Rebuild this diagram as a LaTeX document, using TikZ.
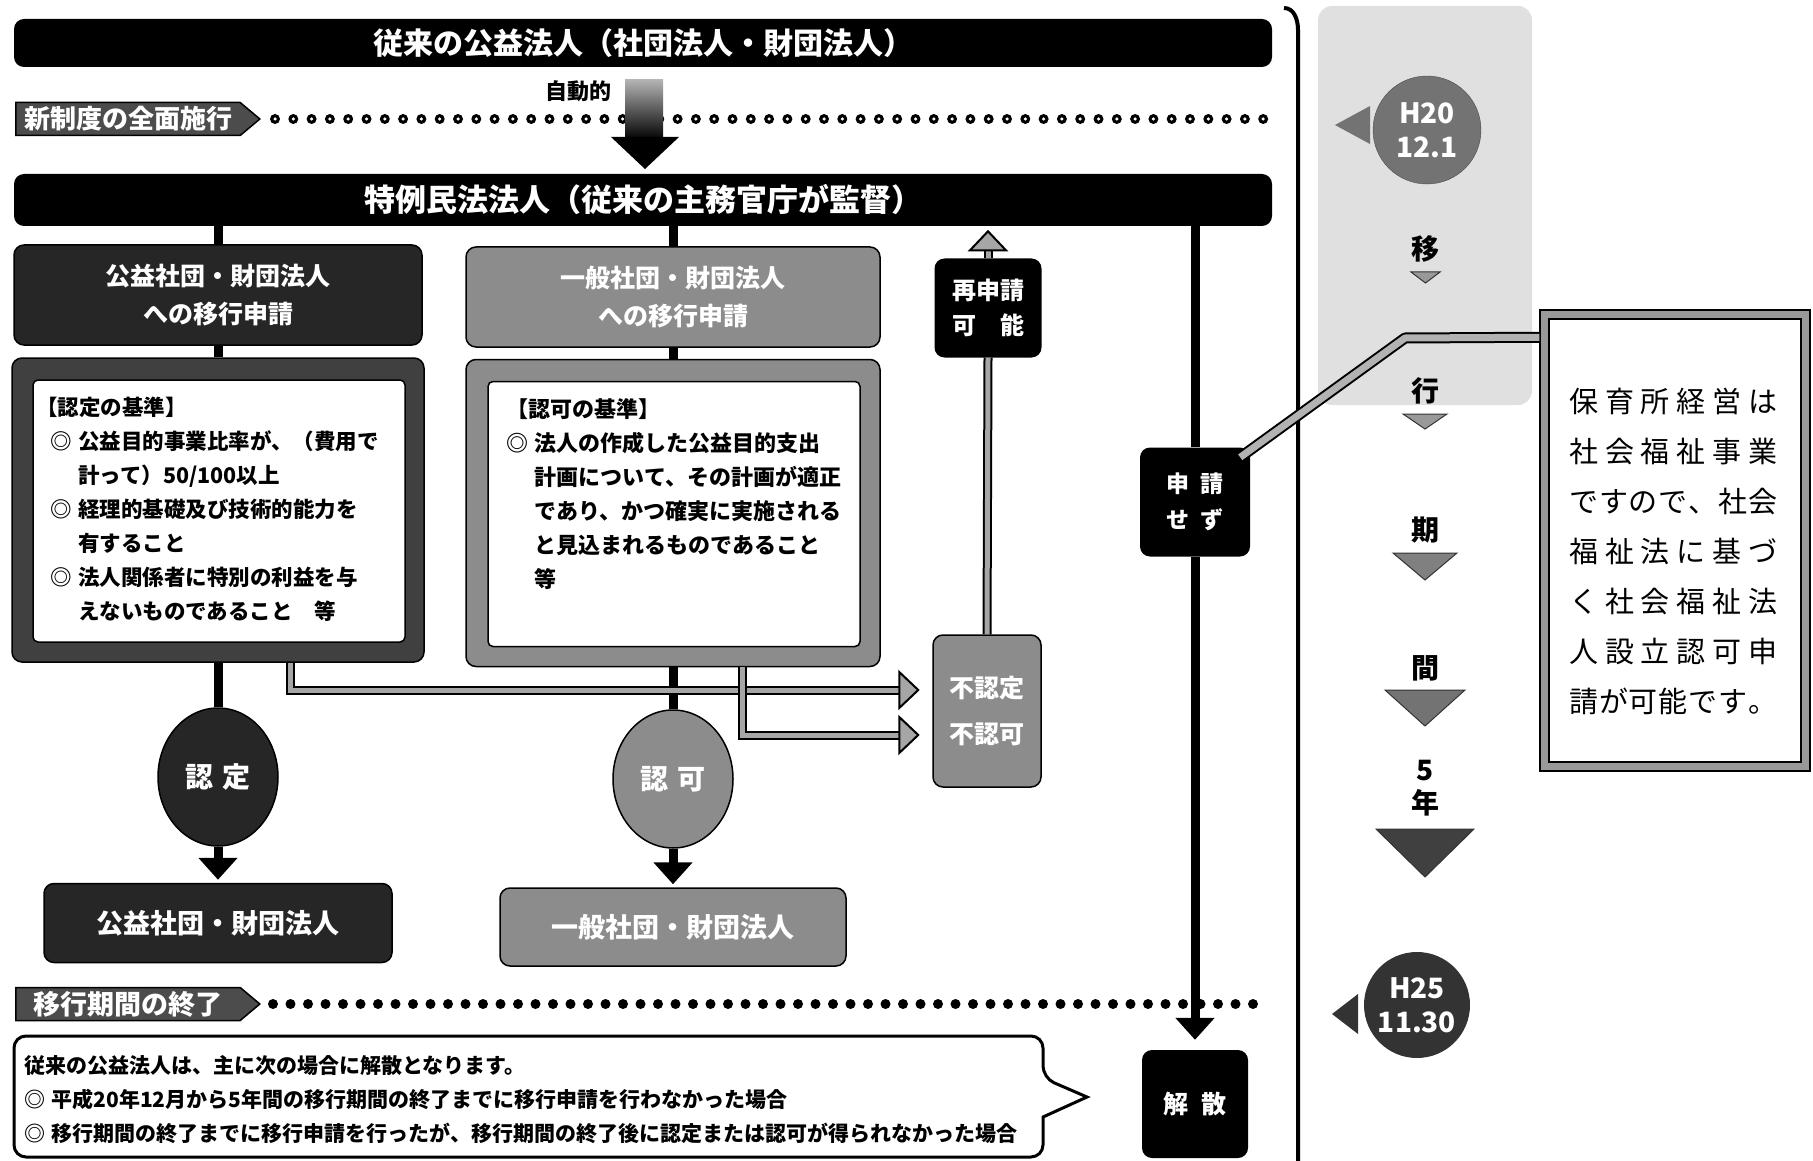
\documentclass[tikz,border=0pt]{standalone}
\usepackage{fontspec}
\newfontfamily\jp{Noto Sans CJK JP}
\usetikzlibrary{arrows.meta,shapes.geometric,shapes.symbols,calc}
\newcommand{\myfs}[2]{\fontsize{#1}{#2}\selectfont}
\begin{document}
\begin{tikzpicture}[x=1pt,y=-1pt,
  every node/.style={inner sep=0pt, font=\jp\bfseries},
  blackbar/.style={fill=black, rounded corners=10pt, text=white, minimum width=1258},
  darkbox/.style={fill=black!85, draw=black, line width=1.5pt, rounded corners=10pt, text=white, align=center},
  graybox/.style={fill=black!45, draw=black, line width=1.5pt, rounded corners=10pt, text=white, align=center},
  blkbox/.style={fill=black, rounded corners=10pt, text=white, align=center},
  conn/.style={line width=9pt, draw=black},
  tipd/.style={-{Triangle[width=38pt,length=22pt]}},
  gline/.style={double=black!35, double distance=5pt, line width=2pt, line join=miter},
  ghead/.style={fill=black!35, draw=black, line width=2pt, line join=miter},
  crittext/.style={anchor=north west, align=left, text=black, font=\jp\bfseries\myfs{21.5}{34}},
  tagbox/.style={signal, signal to=east, signal pointer angle=80, fill=black!70, draw=black, line width=1.5pt, text=white, font=\jp\bfseries\myfs{26}{30}, minimum height=33, minimum width=244},
  tl/.style={font=\jp\bfseries\myfs{28}{33}, align=center},
  tri/.style={fill=black!40, draw=black!80, line width=1pt}
]
\useasboundingbox (0,0) rectangle (1813,1161);

% ---------- right timeline background ----------
\fill[black!12, rounded corners=14pt] (1318,6) rectangle (1532,405);

% ---------- tags and dotted lines ----------
\node[tagbox] (tag1) at (128,119) {新制度の全面施行};
\node[tagbox, font=\jp\bfseries\myfs{27}{30}] (tag2) at (128,1004) {移行期間の終了};
\draw[line width=10pt, line cap=round, dash pattern=on 0pt off 18.3pt] ([xshift=14pt]tag1.east) -- (1268,119);
\draw[line width=3.5pt, white, line cap=round, dash pattern=on 0pt off 18.3pt] ([xshift=14pt]tag1.east) -- (1268,119);
\draw[line width=10pt, line cap=round, dash pattern=on 0pt off 17.5pt] ([xshift=12pt]tag2.east) -- (1255,1004);

% ---------- main bars ----------
\node[blackbar, minimum height=48, font=\jp\bfseries\myfs{30}{34}] (top) at (643,43) {従来の公益法人（社団法人・財団法人）};
\node[blackbar, minimum height=52, font=\jp\bfseries\myfs{31}{34}] (bar2) at (643,200) {特例民法法人（従来の主務官庁が監督）};

% automatic arrow
\node[font=\jp\bfseries\myfs{22}{26}, anchor=east] (auto) at (612,91) {自動的};
\shade[top color=black!30, bottom color=black] (625,80) rectangle (663,140);
\fill (611,137) -- (679,137) -- (645,169) -- cycle;

% ---------- column 1 ----------
\node[darkbox, minimum width=408, minimum height=100, font=\jp\bfseries\myfs{25}{38}] (hdr1) at (218,295) {公益社団・財団法人\\への移行申請};
\node[fill=black!75, draw=black, line width=1.5pt, rounded corners=10pt, minimum width=412, minimum height=304] (crit1) at (218,510) {};
\node[fill=white, draw=black, line width=1.5pt, rounded corners=5pt, minimum width=372, minimum height=262] (crit1in) at (219,511) {};
\node[crittext] (crit1txt) at (36,397) {【認定の基準】\\
\hspace*{0.65em}◎\hspace{0.3em}公益目的事業比率が、（費用で\\
\hspace*{1.95em}計って）50/100以上\\
\hspace*{0.65em}◎\hspace{0.3em}経理的基礎及び技術的能力を\\
\hspace*{1.95em}有すること\\
\hspace*{0.65em}◎\hspace{0.3em}法人関係者に特別の利益を与\\
\hspace*{1.95em}えないものであること　等};
\node[ellipse, fill=black!85, draw=black, line width=1.5pt, minimum width=120, minimum height=138, text=white, font=\jp\bfseries\myfs{28}{32}] (ell1) at (218,777) {認\hspace{0.3em}定};
\node[darkbox, minimum width=348, minimum height=79, font=\jp\bfseries\myfs{27}{32}] (res1) at (218,923) {公益社団・財団法人};

% ---------- column 2 ----------
\node[graybox, minimum width=414, minimum height=100, font=\jp\bfseries\myfs{25}{38}] (hdr2) at (673,297) {一般社団・財団法人\\への移行申請};
\node[fill=black!45, draw=black, line width=1.5pt, rounded corners=10pt, minimum width=414, minimum height=307] (crit2) at (673,513) {};
\node[fill=white, draw=black, line width=1.5pt, rounded corners=5pt, minimum width=372, minimum height=265] (crit2in) at (674,514) {};
\node[crittext, font=\jp\bfseries\myfs{22}{34}] (crit2txt) at (506,398) {【認可の基準】\\
◎\hspace{0.3em}法人の作成した公益目的支出\\
\hspace*{1.3em}計画について、その計画が適正\\
\hspace*{1.3em}であり、かつ確実に実施される\\
\hspace*{1.3em}と見込まれるものであること\\
\hspace*{1.3em}等};
\node[ellipse, fill=black!45, draw=black, line width=1.5pt, minimum width=120, minimum height=138, text=white, font=\jp\bfseries\myfs{28}{32}] (ell2) at (673,779) {認\hspace{0.3em}可};
\node[graybox, minimum width=346, minimum height=78, font=\jp\bfseries\myfs{27}{32}] (res2) at (673,927) {一般社団・財団法人};

% ---------- refusal / reapplication ----------
\node[graybox, minimum width=108, minimum height=152, font=\jp\bfseries\myfs{25}{46}] (nokt) at (987,711) {不認定\\不認可};
\node[blkbox, minimum width=107, minimum height=99, font=\jp\bfseries\myfs{24}{35}] (resub) at (988,308) {再申請\\\makebox[3em][s]{可\hfill 能}};

% ---------- column 3 ----------
\node[blkbox, minimum width=110, minimum height=109, font=\jp\bfseries\myfs{23}{36}] (nosub) at (1195,502) {申\hspace{0.45em}請\\せ\hspace{0.45em}ず};
\node[blkbox, minimum width=106, minimum height=108, font=\jp\bfseries\myfs{25}{30}] (kaisan) at (1195,1104) {解\hspace{0.5em}散};

% ---------- black connectors ----------
\draw[conn] (hdr1.north |- bar2.south) -- (hdr1.north);
\draw[conn] (hdr1.south) -- (crit1.north);
\draw[conn] (crit1.south) -- (ell1.north);
\draw[conn, tipd, shorten >=3pt] (ell1.south) -- (res1.north);
\draw[conn] (hdr2.north |- bar2.south) -- (hdr2.north);
\draw[conn] (hdr2.south) -- (crit2.north);
\draw[conn] (crit2.south) -- (ell2.north);
\draw[conn, tipd, shorten >=3pt] (ell2.south) -- (res2.north);
\draw[conn] (nosub.north |- bar2.south) -- (nosub.north);
\draw[conn, tipd, shorten >=10pt] (nosub.south) -- (kaisan.north);

% ---------- gray connectors ----------
\coordinate (ha) at ($(nokt.west)+(-33,-21)$);
\coordinate (hb) at ($(nokt.west)+(-33,24)$);
\draw[gline] ([xshift=72pt]crit1.south) |- (ha);
\draw[ghead] ($(ha)+(0,-18)$) -- ($(ha)+(19,0)$) -- ($(ha)+(0,18)$) -- cycle;
\draw[gline] ([xshift=69pt]crit2.south) |- (hb);
\draw[ghead] ($(hb)+(0,-18)$) -- ($(hb)+(19,0)$) -- ($(hb)+(0,18)$) -- cycle;
\draw[gline] (nokt.north) -- (resub.south);
\coordinate (hu) at ($(resub.north)+(0,-8)$);
\draw[gline] (resub.north) -- (hu);
\draw[ghead] ($(hu)+(-18,0)$) -- ($(hu)+(18,0)$) -- ($(hu)+(0,-19)$) -- cycle;

% ---------- dissolution callout ----------
\draw[line width=3pt, fill=white, rounded corners=12pt] (14,1036) -- (1043,1036) -- (1043,1078) [sharp corners] -- (1087,1097) -- (1043,1117) [rounded corners=12pt] -- (1043,1157) -- (14,1157) -- cycle;
\node[anchor=north west, align=left, font=\jp\bfseries\myfs{21}{34}] (calltxt) at (24,1055) {従来の公益法人は、主に次の場合に解散となります。\\
◎\hspace{0.3em}平成20年12月から5年間の移行期間の終了までに移行申請を行わなかった場合\\
◎\hspace{0.3em}移行期間の終了までに移行申請を行ったが、移行期間の終了後に認定または認可が得られなかった場合};

% ---------- separator ----------
\draw[line width=4pt] (1284,8) to[out=0,in=90] (1298,30) -- (1298,1161);

% ---------- timeline ----------
\fill[black!55] (1335,125) -- (1370,106) -- (1370,144) -- cycle;
\node[circle, fill=black!55, draw=black!70, minimum size=108, text=white, align=center, font=\jp\bfseries\myfs{28}{34}] (h20) at (1427,130) {H20\\12.1};
\node[tl] (t1) at (1425,249) {移};
\draw[tri] (1411,272) -- (1440,272) -- (1425.5,283) -- cycle;
\node[tl] (t2) at (1425,391) {行};
\draw[tri] (1403,414) -- (1447,414) -- (1425,429) -- cycle;
\node[tl] (t3) at (1425,530) {期};
\draw[tri, fill=black!50] (1393,553) -- (1457,553) -- (1425,580) -- cycle;
\node[tl] (t4) at (1425,668) {間};
\draw[tri, fill=black!55] (1385,690) -- (1465,690) -- (1425,726) -- cycle;
\node[tl] (t5) at (1425,788) {5\\年};
\draw[tri, fill=black!75] (1376,829) -- (1474,829) -- (1425,877) -- cycle;
\fill[black!80] (1332,1014) -- (1358,994) -- (1358,1034) -- cycle;
\node[circle, fill=black!80, minimum size=106, text=white, align=center, font=\jp\bfseries\myfs{28}{34}] (h25) at (1417,1005) {H25\\11.30};

% ---------- note box ----------
\node[fill=black!40, draw=black, line width=1.5pt, minimum width=270, minimum height=461] (note) at (1675,540.5) {};
\node[fill=white, draw=black, line width=1.5pt, minimum width=252, minimum height=443] (notein) at (note.center) {};
\node[anchor=north west, align=left, text=black, font=\jp\mdseries\myfs{29}{50}] (notetxt) at (1569,388) {%
\hbox to 208pt{保\hfill 育\hfill 所\hfill 経\hfill 営\hfill は}\\
\hbox to 208pt{社\hfill 会\hfill 福\hfill 祉\hfill 事\hfill 業}\\
\hbox to 208pt{で\hfill す\hfill の\hfill で\hfill 、\hfill 社\hfill 会}\\
\hbox to 208pt{福\hfill 祉\hfill 法\hfill に\hfill 基\hfill づ}\\
\hbox to 208pt{く\hfill 社\hfill 会\hfill 福\hfill 祉\hfill 法}\\
\hbox to 208pt{人\hfill 設\hfill 立\hfill 認\hfill 可\hfill 申}\\
\hbox to 208pt{請\hfill が\hfill 可\hfill 能\hfill で\hfill す\hfill 。}};

% band connector from note to "申請せず"
\coordinate (bend) at (1405,338);
\draw[double=black!30, double distance=7pt, line width=2pt, line join=round] ([yshift=-28pt]note.north west) -- (bend) -- ([xshift=-10pt,yshift=-10pt]nosub.north east);
\end{tikzpicture}
\end{document}
